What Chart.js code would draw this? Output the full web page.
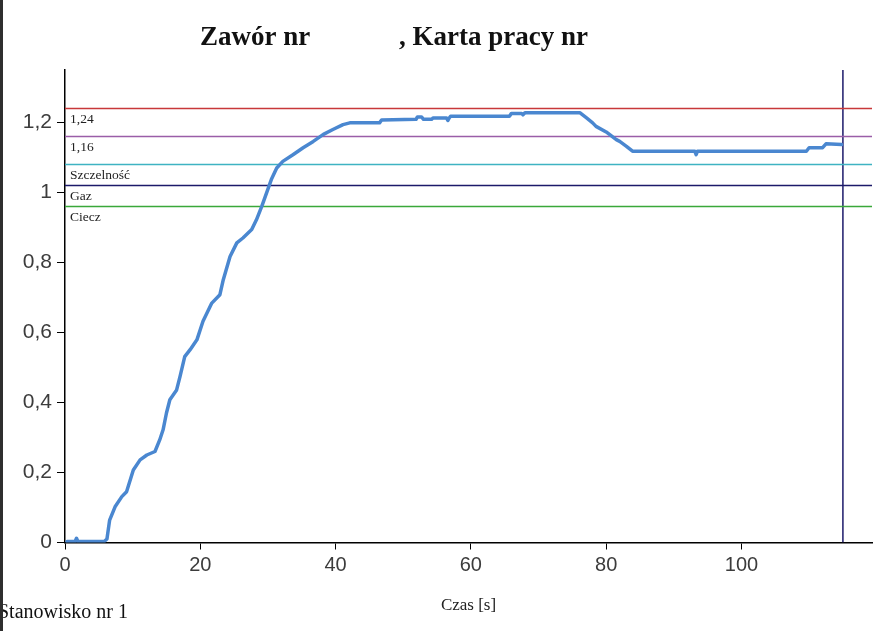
<!DOCTYPE html>
<html>
<head>
<meta charset="utf-8">
<script src="https://cdn.jsdelivr.net/npm/chart.js@4/dist/chart.umd.min.js"></script>
<style>
html,body{margin:0;padding:0;background:#fff;}
#wrap{position:relative;width:894px;height:631px;}
#edge{position:absolute;left:0;top:0;width:3px;height:631px;background:#2e2e2e;}
</style>
</head>
<body>
<div id="wrap"><canvas id="c" width="894" height="631"></canvas><div id="edge"></div></div>
<script>
// ---- data ----
const timeS = [0.3,1.5,1.7,1.9,5.8,6.2,6.6,7.4,8.4,9.1,10.1,11.1,12.1,13.3,14.0,14.5,15.0,15.5,16.5,17.0,17.7,18.5,19.5,20.4,21.7,22.9,23.4,24.4,25.4,26.3,27.6,28.3,29.1,29.8,30.5,31.3,32.2,33.7,35.2,36.7,38.2,39.6,41.1,42.1,46.5,46.8,51.9,52.1,52.7,53.0,54.2,54.4,56.4,56.6,56.8,57.0,65.7,66.0,67.5,67.7,68.0,76.1,77.1,78.0,78.5,80.0,81.5,82.0,83.0,83.9,93.1,93.3,93.5,109.6,110.0,112.0,112.5,114.8];
const valueV = [0.003,0.003,0.012,0.003,0.003,0.01,0.064,0.102,0.131,0.145,0.207,0.236,0.25,0.26,0.293,0.322,0.37,0.408,0.436,0.474,0.531,0.551,0.579,0.632,0.684,0.708,0.751,0.817,0.856,0.87,0.894,0.922,0.961,0.999,1.037,1.07,1.089,1.108,1.128,1.146,1.166,1.18,1.194,1.199,1.199,1.207,1.209,1.216,1.216,1.209,1.209,1.213,1.213,1.206,1.213,1.218,1.218,1.226,1.226,1.222,1.228,1.228,1.213,1.199,1.189,1.173,1.151,1.146,1.132,1.118,1.118,1.108,1.118,1.118,1.128,1.128,1.139,1.137];
const refValues = [1.24, 1.16, 1.08, 1.02, 0.96];
const refLabels = ['1,24', '1,16', 'Szczelność', 'Gaz', 'Ciecz'];
const refColors = ['#c8383a', '#9a5ea8', '#3fb3c2', '#1c1a6a', '#3aa83a'];
const markerTime = 115;
const xTickValues = [0, 20, 40, 60, 80, 100];
const xTickLabels = ['0', '20', '40', '60', '80', '100'];
const yTickValues = [0, 0.2, 0.4, 0.6, 0.8, 1, 1.2];
const yTickLabels = ['0', '0,2', '0,4', '0,6', '0,8', '1', '1,2'];
const titleParts = ['Zawór nr', ', Karta pracy nr'];
const xAxisTitle = 'Czas [s]';
const footerText = 'Stanowisko nr 1';
const X_MAX = 119.3, Y_MAX = 1.35;

// ---- datasets ----
const datasets = [{
  label: 'pomiar',
  data: timeS.map((t, i) => ({x: t, y: valueV[i]})),
  borderColor: '#4a87d0',
  borderWidth: 3.5,
  borderJoinStyle: 'round',
  borderCapStyle: 'round',
  pointRadius: 0,
  tension: 0,
  fill: false
}];
refValues.forEach((v, i) => {
  datasets.push({
    label: refLabels[i],
    data: [{x: 0, y: v}, {x: X_MAX, y: v}],
    borderColor: refColors[i],
    borderWidth: 1.5,
    pointRadius: 0,
    fill: false
  });
});
datasets.push({
  label: 'koniec',
  data: [{x: markerTime, y: 0}, {x: markerTime, y: Y_MAX}],
  borderColor: '#1c1a6a',
  borderWidth: 1.5,
  pointRadius: 0,
  fill: false
});

const textPlugin = {
  id: 'texts',
  afterDraw(chart) {
    const ctx = chart.ctx;
    const xs = chart.scales.x, ys = chart.scales.y;
    ctx.save();
    // reference line labels
    ctx.fillStyle = '#222';
    ctx.font = '13.5px "Liberation Serif"';
    ctx.textAlign = 'left';
    ctx.textBaseline = 'alphabetic';
    refValues.forEach((v, i) => {
      ctx.fillText(refLabels[i], xs.getPixelForValue(0) + 5, ys.getPixelForValue(v) + 14);
    });
    // title
    ctx.fillStyle = '#111';
    ctx.font = 'bold 27px "Liberation Serif"';
    ctx.fillText(titleParts[0], 200, 45);
    ctx.fillText(titleParts[1], 399, 45);
    // footer
    ctx.font = '20px "Liberation Serif"';
    ctx.fillText(footerText, -2, 618);
    ctx.restore();
  }
};

new Chart(document.getElementById('c'), {
  type: 'line',
  data: {datasets},
  options: {
    responsive: false,
    animation: false,
    events: [],
    layout: {padding: {left: 0, right: 22, top: 70, bottom: 0}},
    plugins: {legend: {display: false}, tooltip: {enabled: false}, title: {display: false}},
    scales: {
      x: {
        type: 'linear', min: 0, max: X_MAX,
        afterFit(s) { s.height = 88.5; },
        afterBuildTicks(s) { s.ticks = xTickValues.map(v => ({value: v})); },
        border: {display: true, color: '#000', width: 1.5},
        grid: {display: true, drawOnChartArea: false, drawTicks: true, tickLength: 7, color: '#000', lineWidth: 1},
        ticks: {
          padding: 4, color: '#3c3c3c', font: {family: '"Liberation Sans", Arial', size: 20},
          callback: (v, i) => xTickLabels[i]
        },
        title: {display: true, text: xAxisTitle, color: '#222', font: {family: '"Liberation Serif"', size: 17}, padding: {top: 0, bottom: 15}}
      },
      y: {
        type: 'linear', min: 0, max: Y_MAX,
        afterFit(s) { s.width = 65; },
        afterBuildTicks(s) { s.ticks = yTickValues.map(v => ({value: v})); },
        border: {display: true, color: '#000', width: 1.5},
        grid: {display: true, drawOnChartArea: false, drawTicks: true, tickLength: 8, color: '#000', lineWidth: 1},
        ticks: {
          padding: 5, color: '#3c3c3c', font: {family: '"Liberation Sans", Arial', size: 21},
          callback: (v, i) => yTickLabels[i]
        }
      }
    }
  },
  plugins: [textPlugin]
});
</script>
</body>
</html>
